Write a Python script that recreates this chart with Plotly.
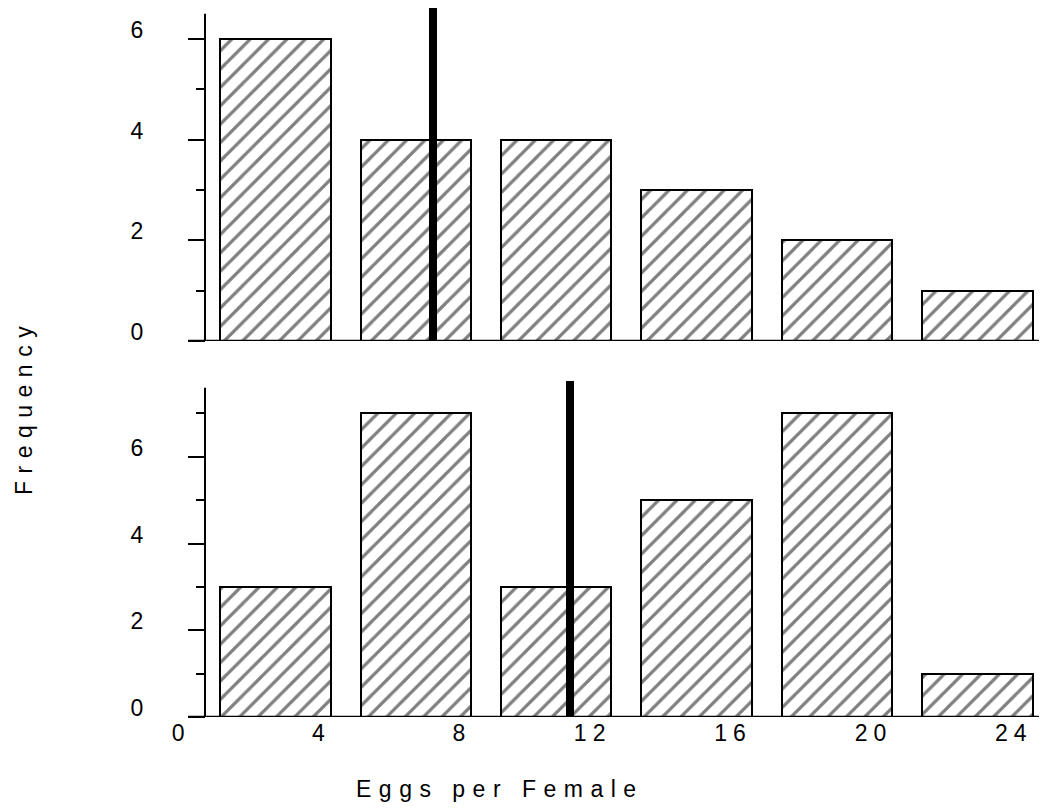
import plotly.graph_objects as go
from plotly.subplots import make_subplots

# Data
bin_lower = [0, 4, 8, 12, 16, 20]
freq_top = [6, 4, 4, 3, 2, 1]
freq_bottom = [3, 7, 3, 5, 7, 1]
mean_top = 7.26
mean_bottom = 11.17
x_tick_vals = [0, 4, 8, 12, 16, 20, 24]
y_tick_vals_top = [0, 2, 4, 6]
y_tick_vals_bottom = [0, 2, 4, 6]

FONT = "Liberation Sans, Arial, sans-serif"
FS = 23
LS = "letter-spacing:7.5px"

# geometry (the page body has an 8px margin)
OFF = 8
W, H = 1039, 804
ML, MR, MT, MB = 163, 0, 0, 95
PW, PH = W - ML - MR, H - MT - MB

def xp(px):
    return (px - OFF - ML) / PW

def yp(py):
    return (H - MB - (py - OFF)) / PH

def xlabel(v):
    # spaced digits, right-aligned look (labels end just right of the tick value)
    s = str(v)
    if len(s) == 1:
        return s
    return (f'<span style="letter-spacing:6px">{s[0]}</span>'
            f'<span style="letter-spacing:19px">{s[1]}</span>')

# y ranges: (range top, axis-line top)
top_rng, top_axis = 6.616, 6.5
bot_rng, bot_axis = 7.748, 7.59

fig = make_subplots(rows=2, cols=1)

hatch = dict(shape="/", fgcolor="black", bgcolor="white", size=13, solidity=0.25)

for row, freq, mean, ytop in [(1, freq_top, mean_top, top_rng), (2, freq_bottom, mean_bottom, bot_rng)]:
    fig.add_trace(go.Bar(
        x=bin_lower, y=freq, offset=1.2, width=3.15,
        marker=dict(color="white", pattern=hatch, line=dict(color="black", width=2)),
        showlegend=False, hoverinfo="skip",
    ), row=row, col=1)
    fig.add_trace(go.Bar(
        x=[mean], y=[ytop], width=0.24,
        marker=dict(color="black", line=dict(width=0)),
        showlegend=False, hoverinfo="skip",
    ), row=row, col=1)

xaxis_common = dict(range=[-0.2, 24.76], showgrid=False, zeroline=False, showline=False,
                    ticks="", fixedrange=True)
fig.update_layout(
    xaxis=dict(domain=[0, 1], showticklabels=False, anchor="y", **xaxis_common),
    xaxis2=dict(domain=[0, 1], showticklabels=True, anchor="y2",
                tickvals=x_tick_vals,
                ticktext=[xlabel(v) for v in x_tick_vals],
                tickfont=dict(family=FONT, size=FS, color="black"),
                ticklabelstandoff=0, **xaxis_common),
)

yaxis_pos = xp(205)
yaxis_common = dict(showgrid=False, zeroline=False, showline=False,
                    anchor="free", position=yaxis_pos, ticks="outside", ticklen=17, tickwidth=2,
                    tickcolor="black", tickfont=dict(family=FONT, size=FS, color="black"),
                    ticklabelstandoff=40, ticklabelshift=-9, fixedrange=True,
                    minor=dict(dtick=1, ticklen=9, tickwidth=2, tickcolor="black", ticks="outside",
                               showgrid=False))
fig.update_layout(
    yaxis=dict(domain=[yp(341), 1], range=[0, top_rng], tickvals=y_tick_vals_top, **yaxis_common),
    yaxis2=dict(domain=[0, yp(381)], range=[0, bot_rng], tickvals=y_tick_vals_bottom, **yaxis_common),
)

# axis lines: x lines start slightly left of the y axis; y lines stop below the mean markers
for xref, yref, ymax in [("x", "y", top_axis), ("x2", "y2", bot_axis)]:
    fig.add_shape(type="line", xref=xref, yref=yref, x0=0.285, x1=24.76, y0=0, y1=0,
                  line=dict(color="black", width=2.5), layer="above")
    fig.add_shape(type="line", xref="paper", yref=yref, x0=yaxis_pos, x1=yaxis_pos, y0=0, y1=ymax,
                  line=dict(color="black", width=2), layer="above")

fig.add_annotation(text=f'<span style="{LS}">Frequency</span>', xref="paper", yref="paper",
                   x=xp(24), y=yp(407), textangle=-90, showarrow=False,
                   font=dict(family=FONT, size=FS, color="black"), xanchor="center", yanchor="middle")
fig.add_annotation(text=f'<span style="{LS}">Eggs per Female</span>', xref="paper", yref="paper",
                   x=xp(500), y=yp(789), showarrow=False,
                   font=dict(family=FONT, size=FS, color="black"), xanchor="center", yanchor="middle")

fig.update_layout(
    width=W, height=H, margin=dict(l=ML, r=MR, t=MT, b=MB),
    barmode="overlay", bargap=0, plot_bgcolor="white", paper_bgcolor="white",
    font=dict(family=FONT, color="black"),
)

fig.write_html("out.html")
